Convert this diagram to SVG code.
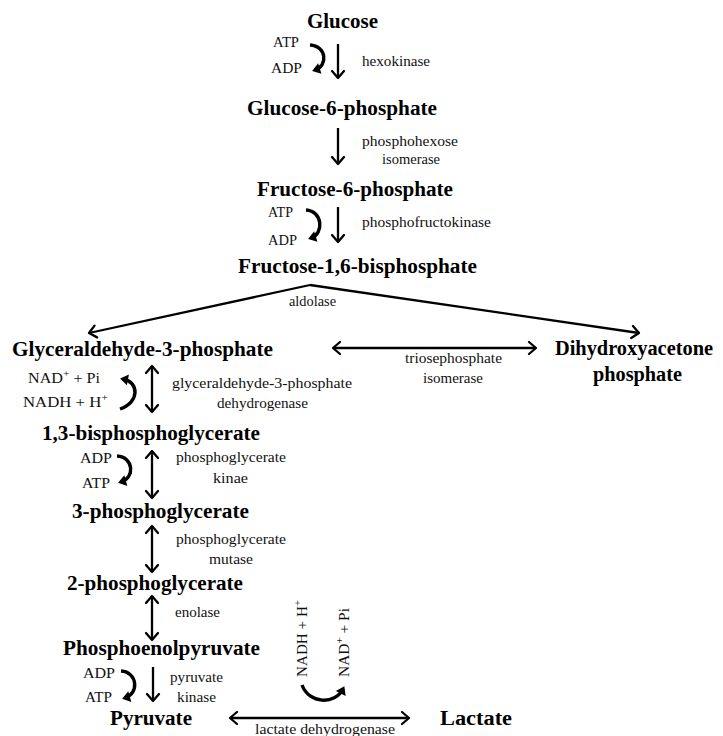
<svg xmlns="http://www.w3.org/2000/svg" width="723" height="736" viewBox="0 0 723 736">
<style>
.t{font-family:"Liberation Serif","Times New Roman",serif;font-weight:bold;font-size:20px;fill:#000;}
.s{font-family:"Liberation Serif","Times New Roman",serif;font-size:14px;fill:#111;}
.ln{stroke:#000;stroke-width:2.3;fill:none;}
.cv{stroke:#000;stroke-width:3.4;fill:none;}
</style>
<defs>
<marker id="a" viewBox="-10 -8 12 16" markerWidth="12" markerHeight="16" refX="0" refY="0" markerUnits="userSpaceOnUse" orient="auto-start-reverse">
<path d="M-7,-6 L0,0 L-7,6" fill="none" stroke="#000" stroke-width="2.3" stroke-linecap="round" stroke-linejoin="round"/>
</marker>
<marker id="c" viewBox="-8 -7 12 14" markerWidth="12" markerHeight="14" refX="0" refY="0" markerUnits="userSpaceOnUse" orient="auto">
<path d="M-5,-5.5 L3,0 L-5,5.5 z" fill="#000"/>
</marker>
</defs>
<rect width="723" height="736" fill="#fff"/>

<g id="connectors">
<line class="ln" x1="338" y1="44" x2="338" y2="78" marker-end="url(#a)"/>
<line class="ln" x1="338" y1="128" x2="338" y2="164" marker-end="url(#a)"/>
<line class="ln" x1="338" y1="207" x2="338" y2="242" marker-end="url(#a)"/>
<line class="ln" x1="310" y1="285" x2="89" y2="333" marker-end="url(#a)" stroke-width="2"/>
<line class="ln" x1="310" y1="285" x2="639" y2="333" marker-end="url(#a)" stroke-width="2"/>
<line class="ln" x1="333" y1="348" x2="536" y2="348" marker-start="url(#a)" marker-end="url(#a)" stroke-width="2.6"/>
<line class="ln" x1="152" y1="366" x2="152" y2="412" marker-start="url(#a)" marker-end="url(#a)"/>
<line class="ln" x1="152" y1="451" x2="152" y2="498" marker-start="url(#a)" marker-end="url(#a)"/>
<line class="ln" x1="152" y1="526" x2="152" y2="572" marker-start="url(#a)" marker-end="url(#a)"/>
<line class="ln" x1="152" y1="596" x2="152" y2="640" marker-start="url(#a)" marker-end="url(#a)"/>
<line class="ln" x1="153" y1="667" x2="153" y2="701" marker-end="url(#a)"/>
<line class="ln" x1="230" y1="718" x2="409" y2="718" marker-start="url(#a)" marker-end="url(#a)" stroke-width="2.6"/>
<path class="cv" d="M310,45 C327,46 328,66 315,70" marker-end="url(#c)"/>
<path class="cv" d="M306,210 C323,211 324,234 311,238" marker-end="url(#c)"/>
<path class="cv" d="M120,409 C140,402 139,382 123,379" marker-end="url(#c)"/>
<path class="cv" d="M117,456 C134,457 135,478 121,482" marker-end="url(#c)"/>
<path class="cv" d="M121,671 C138,672 139,694 125,698" marker-end="url(#c)"/>
<path class="cv" d="M302,685 C309,704 335,705 343,689" marker-end="url(#c)"/>
</g>

<g id="glucose"><text class="t" x="307" y="28" textLength="71" lengthAdjust="spacingAndGlyphs">Glucose</text></g>
<g id="hexokinase-step">
<text class="s" x="273" y="47" textLength="26" lengthAdjust="spacingAndGlyphs">ATP</text>
<text class="s" x="271" y="73" textLength="31" lengthAdjust="spacingAndGlyphs">ADP</text>
<text class="s" x="362" y="66" textLength="68" lengthAdjust="spacingAndGlyphs">hexokinase</text>
</g>
<g id="g6p"><text class="t" x="247" y="115" textLength="190" lengthAdjust="spacingAndGlyphs">Glucose-6-phosphate</text></g>
<g id="phi-step">
<text class="s" x="362" y="146" textLength="96" lengthAdjust="spacingAndGlyphs">phosphohexose</text>
<text class="s" x="382" y="164" textLength="58" lengthAdjust="spacingAndGlyphs">isomerase</text>
</g>
<g id="f6p"><text class="t" x="257" y="196" textLength="196" lengthAdjust="spacingAndGlyphs">Fructose-6-phosphate</text></g>
<g id="pfk-step">
<text class="s" x="268" y="217" textLength="25" lengthAdjust="spacingAndGlyphs">ATP</text>
<text class="s" x="268" y="245" textLength="29" lengthAdjust="spacingAndGlyphs">ADP</text>
<text class="s" x="362" y="227" textLength="129" lengthAdjust="spacingAndGlyphs">phosphofructokinase</text>
</g>
<g id="f16bp"><text class="t" x="238" y="273" textLength="239" lengthAdjust="spacingAndGlyphs">Fructose-1,6-bisphosphate</text></g>
<g id="aldolase-step"><text class="s" x="289" y="306" textLength="47" lengthAdjust="spacingAndGlyphs">aldolase</text></g>
<g id="g3p"><text class="t" x="12" y="356" textLength="261" lengthAdjust="spacingAndGlyphs">Glyceraldehyde-3-phosphate</text></g>
<g id="dhap">
<text class="t" x="555" y="355" textLength="158" lengthAdjust="spacingAndGlyphs">Dihydroxyacetone</text>
<text class="t" x="593" y="381" textLength="89" lengthAdjust="spacingAndGlyphs">phosphate</text>
</g>
<g id="tpi-step">
<text class="s" x="405" y="363" textLength="97" lengthAdjust="spacingAndGlyphs">triosephosphate</text>
<text class="s" x="423" y="383" textLength="60" lengthAdjust="spacingAndGlyphs">isomerase</text>
</g>
<g id="gapdh-step">
<text class="s" x="28" y="383" font-size="15.5" textLength="72" lengthAdjust="spacingAndGlyphs">NAD<tspan dy="-6" font-size="10">+</tspan><tspan dy="6"> + Pi</tspan></text>
<text class="s" x="23" y="407" font-size="15.5" textLength="85" lengthAdjust="spacingAndGlyphs">NADH + H<tspan dy="-6" font-size="10">+</tspan></text>
<text class="s" x="172" y="388" textLength="180" lengthAdjust="spacingAndGlyphs">glyceraldehyde-3-phosphate</text>
<text class="s" x="217" y="408" textLength="91" lengthAdjust="spacingAndGlyphs">dehydrogenase</text>
</g>
<g id="bpg13"><text class="t" x="42" y="440" textLength="218" lengthAdjust="spacingAndGlyphs">1,3-bisphosphoglycerate</text></g>
<g id="pgk-step">
<text class="s" x="80" y="463" textLength="32" lengthAdjust="spacingAndGlyphs">ADP</text>
<text class="s" x="82" y="488" textLength="28" lengthAdjust="spacingAndGlyphs">ATP</text>
<text class="s" x="176" y="462" textLength="110" lengthAdjust="spacingAndGlyphs">phosphoglycerate</text>
<text class="s" x="213" y="483" textLength="35" lengthAdjust="spacingAndGlyphs">kinae</text>
</g>
<g id="pg3"><text class="t" x="72" y="518" textLength="177" lengthAdjust="spacingAndGlyphs">3-phosphoglycerate</text></g>
<g id="pgm-step">
<text class="s" x="176" y="544" textLength="110" lengthAdjust="spacingAndGlyphs">phosphoglycerate</text>
<text class="s" x="209" y="564" textLength="44" lengthAdjust="spacingAndGlyphs">mutase</text>
</g>
<g id="pg2"><text class="t" x="67" y="590" textLength="176" lengthAdjust="spacingAndGlyphs">2-phosphoglycerate</text></g>
<g id="enolase-step"><text class="s" x="175" y="617" textLength="45" lengthAdjust="spacingAndGlyphs">enolase</text></g>
<g id="pep"><text class="t" x="63" y="655" textLength="197" lengthAdjust="spacingAndGlyphs">Phosphoenolpyruvate</text></g>
<g id="pk-step">
<text class="s" x="83" y="678" textLength="32" lengthAdjust="spacingAndGlyphs">ADP</text>
<text class="s" x="85" y="702" textLength="27" lengthAdjust="spacingAndGlyphs">ATP</text>
<text class="s" x="170" y="682" textLength="53" lengthAdjust="spacingAndGlyphs">pyruvate</text>
<text class="s" x="177" y="702" textLength="39" lengthAdjust="spacingAndGlyphs">kinase</text>
</g>
<g id="pyruvate"><text class="t" x="110" y="725" textLength="82" lengthAdjust="spacingAndGlyphs">Pyruvate</text></g>
<g id="ldh-step">
<text class="s" x="255" y="734" textLength="140" lengthAdjust="spacingAndGlyphs">lactate  dehydrogenase</text>
<text class="s" font-size="15.5" transform="translate(307,677) rotate(-90)" textLength="77" lengthAdjust="spacingAndGlyphs">NADH + H<tspan dy="-6" font-size="10">+</tspan></text>
<text class="s" font-size="15.5" transform="translate(349,677) rotate(-90)" textLength="69" lengthAdjust="spacingAndGlyphs">NAD<tspan dy="-6" font-size="10">+</tspan><tspan dy="6"> + Pi</tspan></text>
</g>
<g id="lactate"><text class="t" x="440" y="725" textLength="72" lengthAdjust="spacingAndGlyphs">Lactate</text></g>
</svg>
